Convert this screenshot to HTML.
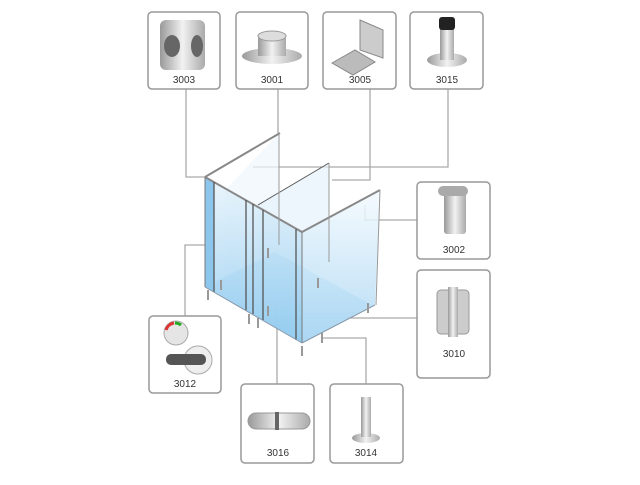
<!DOCTYPE html>
<html><head><style>
body{margin:0;background:#fff;width:640px;height:480px;overflow:hidden;font-family:"Liberation Sans",sans-serif}
</style></head><body>
<svg width="640" height="480" viewBox="0 0 640 480" xmlns="http://www.w3.org/2000/svg">
<defs>
<linearGradient id="g1" x1="0" y1="0" x2="0" y2="1"><stop offset="0" stop-color="#e8f4fc"/><stop offset="1" stop-color="#8ec9ee"/></linearGradient>
<linearGradient id="g2" x1="0" y1="0" x2="0" y2="1"><stop offset="0" stop-color="#f4fafe"/><stop offset="1" stop-color="#a9d6f3"/></linearGradient>
<linearGradient id="m" x1="0" y1="0" x2="1" y2="0"><stop offset="0" stop-color="#999"/><stop offset=".5" stop-color="#f2f2f2"/><stop offset="1" stop-color="#aaa"/></linearGradient>
</defs>
<g fill="none" stroke="#aaa" stroke-width="1.3">
<polyline points="186,89 186,177 205,177"/>
<polyline points="278,89 278,133"/>
<polyline points="370,89 370,180 332,180"/>
<polyline points="448,89 448,167 253,167"/>
<polyline points="417,220 365,220 365,205"/>
<polyline points="417,318 296,318"/>
<polyline points="185,316 185,245 213,245"/>
<polyline points="277,384 277,265 268,265"/>
<polyline points="366,384 366,338 322,338"/>
</g>
<polygon points="225,190 279,133 279,245 225,290" fill="#eef6fc" opacity=".7"/>
<polygon points="258,205 329,163 329,260 258,300" fill="#e6f2fb" opacity=".7"/>
<polygon points="205,287 302,343 372,305 275,252" fill="#9fd2f2" opacity=".85"/>
<polygon points="205,177 302,232 302,343 205,287" fill="url(#g1)" opacity=".85"/>
<polygon points="205,177 214,182 214,292 205,287" fill="#8cc6ec"/>
<polygon points="302,232 380,190 375,305 302,343" fill="url(#g2)" opacity=".85"/>
<g stroke="#555" stroke-width="1" fill="none">
<line x1="205" y1="177" x2="280" y2="133" stroke-width="2" stroke="#888"/>
<line x1="205" y1="177" x2="302" y2="232" stroke-width="2" stroke="#888"/>
<line x1="302" y1="232" x2="380" y2="190" stroke-width="2" stroke="#888"/>
<line x1="258" y1="205" x2="329" y2="163"/>
<line x1="279" y1="133" x2="279" y2="245" stroke="#999"/>
<line x1="329" y1="163" x2="329" y2="262" stroke="#999"/>
<line x1="205" y1="177" x2="205" y2="287" stroke="#777"/>
<line x1="214" y1="182" x2="214" y2="292" stroke-width="1.3"/>
<line x1="246" y1="200" x2="246" y2="310" stroke-width="1.3"/>
<line x1="253" y1="204" x2="253" y2="314" stroke-width="1.3"/>
<line x1="263" y1="210" x2="263" y2="320" stroke-width="1.3"/>
<line x1="296" y1="229" x2="296" y2="340" stroke-width="1.3"/>
<line x1="302" y1="232" x2="302" y2="343" stroke="#777"/>
<line x1="380" y1="190" x2="376" y2="305" stroke="#999"/>
<line x1="205" y1="287" x2="302" y2="343" stroke="#89a"/>
<line x1="302" y1="343" x2="375" y2="305" stroke="#89a"/>
</g>
<g stroke="#999" stroke-width="2">
<line x1="208" y1="290" x2="208" y2="300"/><line x1="221" y1="280" x2="221" y2="290"/>
<line x1="249" y1="314" x2="249" y2="324"/><line x1="258" y1="318" x2="258" y2="328"/>
<line x1="268" y1="306" x2="268" y2="316"/><line x1="302" y1="346" x2="302" y2="356"/>
<line x1="322" y1="333" x2="322" y2="343"/><line x1="318" y1="278" x2="318" y2="288"/>
<line x1="368" y1="303" x2="368" y2="313"/><line x1="268" y1="248" x2="268" y2="258"/>
</g>
<g fill="#fff" stroke="#999" stroke-width="1.5">
<rect x="148" y="12" width="72" height="77" rx="4"/>
<rect x="236" y="12" width="72" height="77" rx="4"/>
<rect x="323" y="12" width="73" height="77" rx="4"/>
<rect x="410" y="12" width="73" height="77" rx="4"/>
<rect x="417" y="182" width="73" height="77" rx="4"/>
<rect x="417" y="270" width="73" height="108" rx="4"/>
<rect x="149" y="316" width="72" height="77" rx="4"/>
<rect x="241" y="384" width="73" height="79" rx="4"/>
<rect x="330" y="384" width="73" height="79" rx="4"/>
</g>
<rect x="160" y="20" width="45" height="50" rx="6" fill="url(#m)"/><ellipse cx="172" cy="46" rx="8" ry="11" fill="#666"/><ellipse cx="197" cy="46" rx="6" ry="11" fill="#666"/>
<ellipse cx="272" cy="56" rx="30" ry="8" fill="url(#m)"/><rect x="258" y="36" width="28" height="20" fill="url(#m)"/><ellipse cx="272" cy="36" rx="14" ry="5" fill="#ddd" stroke="#999"/>
<polygon points="332,63 355,50 375,62 353,75" fill="#bbb" stroke="#888"/><polygon points="360,20 383,30 383,58 360,50" fill="#ccc" stroke="#888"/>
<ellipse cx="447" cy="60" rx="20" ry="7" fill="url(#m)"/><rect x="440" y="28" width="14" height="32" fill="url(#m)"/><rect x="439" y="17" width="16" height="13" rx="3" fill="#222"/>
<rect x="444" y="192" width="22" height="42" rx="3" fill="url(#m)"/><rect x="438" y="186" width="30" height="10" rx="5" fill="#aaa"/>
<rect x="437" y="290" width="32" height="44" rx="4" fill="#ccc" stroke="#999"/><rect x="448" y="287" width="10" height="50" fill="url(#m)"/>
<circle cx="176" cy="333" r="12" fill="#e5e5e5" stroke="#aaa"/><path d="M166,330 a10,10 0 0 1 8,-7" stroke="#d33" stroke-width="3" fill="none"/><path d="M175,323 a10,10 0 0 1 6,2" stroke="#2a2" stroke-width="3" fill="none"/>
<circle cx="198" cy="360" r="14" fill="#eee" stroke="#aaa"/><rect x="166" y="354" width="40" height="11" rx="5" fill="#555"/>
<rect x="248" y="413" width="62" height="16" rx="8" fill="url(#m)" stroke="#999"/><rect x="275" y="412" width="4" height="18" fill="#666"/>
<ellipse cx="366" cy="438" rx="14" ry="5" fill="url(#m)"/><rect x="361" y="397" width="10" height="40" fill="url(#m)"/>
<g font-size="10" fill="#333" text-anchor="middle">
<text x="184" y="83">3003</text><text x="272" y="83">3001</text><text x="360" y="83">3005</text><text x="447" y="83">3015</text>
<text x="454" y="253">3002</text><text x="454" y="357">3010</text><text x="185" y="387">3012</text>
<text x="278" y="456">3016</text><text x="366" y="456">3014</text>
</g>
</svg>
</body></html>
